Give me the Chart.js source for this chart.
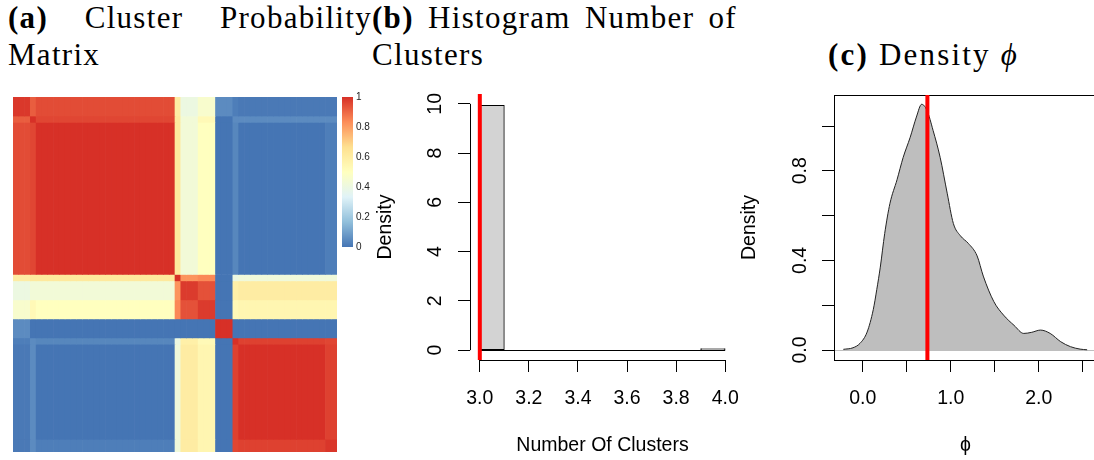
<!DOCTYPE html>
<html>
<head>
<meta charset="utf-8">
<script src="https://cdn.jsdelivr.net/npm/chart.js@4.4.1/dist/chart.umd.min.js"></script>
<style>
  html, body { margin: 0; padding: 0; background: #fff; overflow: hidden; }
  body { position: relative; width: 1094px; height: 460px; }
  .cap { position: absolute; font-family: "Liberation Serif", "Times New Roman", serif;
         font-size: 31px; line-height: 37px; letter-spacing: 1.3px; color: #000; }
  .cap .l1 { text-align: justify; text-align-last: justify; }
  canvas { position: absolute; }
</style>
</head>
<body>
<div class="cap" style="left:8px;top:-1px;width:364px">
  <div class="l1"><b>(a)</b> Cluster Probability</div>
  <div>Matrix</div>
</div>
<div class="cap" style="left:372px;top:-1px;width:365px">
  <div class="l1"><b>(b)</b> Histogram Number of</div>
  <div>Clusters</div>
</div>
<div class="cap" style="left:828px;top:36px;letter-spacing:2.2px">
  <div><b>(c)</b> Density <i>ϕ</i></div>
</div>

<canvas id="heat" width="340" height="370" style="left:0;top:90px"></canvas>
<canvas id="legend" width="43" height="177" style="left:340px;top:85px"></canvas>
<canvas id="hist" width="390" height="400" style="left:370px;top:60px"></canvas>
<canvas id="dens" width="372" height="400" style="left:738px;top:60px"></canvas>

<script>
// ---- (a) co-clustering probabilities, items grouped into runs with the same profile ----
const blockNames = ['A0', 'A1', 'A2', 'B0', 'B1', 'B2', 'C', 'D0', 'D1', 'D2'];
const blockSizes = [3, 1, 24, 1, 3, 3, 3, 1, 15, 2];
const blockProb = [
  [0.985, 0.92, 0.95, 0.60, 0.40, 0.46, 0.05, 0.02, 0.01, 0.01],
  [0.92, 1.00, 0.96, 0.62, 0.43, 0.53, 0.00, 0.05, 0.05, 0.05],
  [0.95, 0.96, 1.00, 0.62, 0.43, 0.50, 0.00, 0.04, 0.00, 0.02],
  [0.60, 0.62, 0.62, 1.00, 0.82, 0.84, 0.00, 0.40, 0.42, 0.42],
  [0.40, 0.43, 0.43, 0.82, 0.98, 0.94, 0.00, 0.58, 0.60, 0.60],
  [0.46, 0.53, 0.50, 0.84, 0.94, 0.98, 0.00, 0.53, 0.55, 0.55],
  [0.05, 0.00, 0.00, 0.00, 0.00, 0.00, 1.00, 0.00, 0.00, 0.00],
  [0.02, 0.05, 0.04, 0.40, 0.58, 0.53, 0.00, 1.00, 0.97, 0.96],
  [0.01, 0.05, 0.00, 0.42, 0.60, 0.55, 0.00, 0.97, 1.00, 0.97],
  [0.01, 0.05, 0.02, 0.42, 0.60, 0.55, 0.00, 0.96, 0.97, 0.99]
];
const legendTicks = [0, 0.2, 0.4, 0.6, 0.8, 1];
const legendLabels = ['0', '0.2', '0.4', '0.6', '0.8', '1'];

// ---- (b) posterior number of clusters ----
const kBreaks = [3.0, 3.1, 3.2, 3.3, 3.4, 3.5, 3.6, 3.7, 3.8, 3.9, 4.0];
const kDensity = [9.94, 0, 0, 0, 0, 0, 0, 0, 0, 0.06];
const kMark = 3;
const kXTicks = [3.0, 3.2, 3.4, 3.6, 3.8, 4.0];
const kXLabels = ['3.0', '3.2', '3.4', '3.6', '3.8', '4.0'];
const kYTicks = [0, 2, 4, 6, 8, 10];
const kYLabels = ['0', '2', '4', '6', '8', '10'];

// ---- (c) posterior density of phi ----
const phiX = [-0.22, -0.11, -0.03, 0.05, 0.12, 0.16, 0.20, 0.25, 0.31, 0.39, 0.46, 0.54,
              0.61, 0.67, 0.73, 0.80, 0.88, 0.96, 1.03, 1.11, 1.20, 1.30, 1.37, 1.49,
              1.60, 1.72, 1.83, 1.92, 2.02, 2.13, 2.25, 2.36, 2.47, 2.55];
const phiY = [0.003, 0.01, 0.03, 0.08, 0.18, 0.27, 0.37, 0.52, 0.655, 0.76, 0.86, 0.95,
              1.04, 1.097, 1.07, 0.98, 0.86, 0.70, 0.565, 0.51, 0.476, 0.42, 0.33, 0.216,
              0.156, 0.11, 0.074, 0.079, 0.089, 0.074, 0.037, 0.015, 0.004, 0.001];
const phiMark = 0.735;
const phiXTicks = [0, 0.5, 1, 1.5, 2, 2.5];
const phiXLabels = ['0.0', '', '1.0', '', '2.0', ''];
const phiYTicks = [0, 0.2, 0.4, 0.6, 0.8, 1.0];
const phiYLabels = ['0.0', '', '0.4', '', '0.8', ''];

// RdYlBu, reversed (blue = 0, red = 1)
const palette = ['#4575B4', '#91BFDB', '#E0F3F8', '#FFFFBF', '#FEE090', '#FC8D59', '#D73027'];

function hexRgb(h) { return [1, 3, 5].map(i => parseInt(h.slice(i, i + 2), 16)); }
function probColor(v) {
  const p = Math.max(0, Math.min(1, v)) * (palette.length - 1);
  const i = Math.min(Math.floor(p), palette.length - 2);
  const t = p - i;
  const a = hexRgb(palette[i]), b = hexRgb(palette[i + 1]);
  return 'rgb(' + a.map((c, k) => Math.round(c + (b[k] - c) * t)).join(',') + ')';
}

Chart.defaults.animation = false;
Chart.defaults.color = '#000';
Chart.defaults.font.family = '"Liberation Sans", Arial, sans-serif';
Chart.defaults.font.size = 19.5;
Chart.defaults.plugins.legend.display = false;
Chart.defaults.plugins.tooltip.enabled = false;

// R-style extras: axis lines over the tick range, box, zero line, reference line
const rFrame = {
  id: 'rFrame',
  beforeDatasetsDraw(chart, args, o) {
    if (o.zeroLine === undefined) return;
    const { ctx, chartArea: a, scales: { y } } = chart;
    const py = Math.round(y.getPixelForValue(o.zeroLine)) + 0.5;
    ctx.save();
    ctx.strokeStyle = '#BEBEBE';
    ctx.lineWidth = 1;
    ctx.beginPath();
    ctx.moveTo(a.left, py);
    ctx.lineTo(a.right, py);
    ctx.stroke();
    ctx.restore();
  },
  afterDatasetsDraw(chart, args, o) {
    const { ctx, chartArea: a, scales: { x, y } } = chart;
    const px = v => Math.round(v) + 0.5;
    ctx.save();
    ctx.strokeStyle = '#000';
    ctx.lineWidth = 1;
    if (o.baseline) {
      // bottom edge of the histogram rectangles, including the empty bins
      const py = px(y.getPixelForValue(0));
      ctx.beginPath();
      ctx.moveTo(x.getPixelForValue(o.baseline[0]), py);
      ctx.lineTo(x.getPixelForValue(o.baseline[1]), py);
      ctx.stroke();
    }
    if (o.box) {
      ctx.strokeRect(px(a.left), px(a.top), Math.round(a.right - a.left), Math.round(a.bottom - a.top));
    }
    if (o.axes) {
      const xt = x.ticks, yt = y.ticks;
      ctx.beginPath();
      ctx.moveTo(x.getPixelForValue(xt[0].value), px(a.bottom));
      ctx.lineTo(x.getPixelForValue(xt[xt.length - 1].value), px(a.bottom));
      ctx.moveTo(px(a.left), y.getPixelForValue(yt[0].value));
      ctx.lineTo(px(a.left), y.getPixelForValue(yt[yt.length - 1].value));
      ctx.stroke();
    }
    if (o.mark !== undefined) {
      const mx = x.getPixelForValue(o.mark);
      ctx.strokeStyle = '#FF0000';
      ctx.lineWidth = 4;
      ctx.beginPath();
      ctx.moveTo(mx, a.top);
      ctx.lineTo(mx, a.bottom);
      ctx.stroke();
    }
    ctx.restore();
  }
};

function rAxis(opts) {
  // ticks only (no grid, no border), fixed size so the plot region is pinned
  const horizontal = opts.axis === 'x';
  return {
    type: 'linear',
    min: opts.min,
    max: opts.max,
    offset: false,
    grid: { display: true, drawOnChartArea: false, drawTicks: true, tickLength: 12,
            color: '#000', lineWidth: 1, offset: false },
    border: { display: false },
    afterBuildTicks: s => { s.ticks = opts.ticks.map(v => ({ value: v })); },
    ticks: Object.assign({
      autoSkip: false,
      callback: (v, i) => opts.labels[i]
    }, horizontal ? { padding: 15, maxRotation: 0 }
                  : { minRotation: 90, maxRotation: 90, crossAlign: 'center', padding: opts.labelPad }),
    title: { display: true, text: opts.title,
             padding: horizontal ? { top: 0, bottom: 3 } : { top: opts.titlePad, bottom: 0 } },
    afterFit: s => { if (horizontal) s.height = opts.size; else s.width = opts.size; }
  };
}

// ---- (a) heatmap: one stacked column per item, one stack segment per row block ----
const itemBlock = [];
blockSizes.forEach((n, b) => { for (let k = 0; k < n; k++) itemBlock.push(b); });
const itemLabels = itemBlock.map((_, i) => String(i + 1));

new Chart(document.getElementById('heat'), {
  type: 'bar',
  data: {
    labels: itemLabels,
    datasets: blockSizes.map((n, r) => ({
      label: blockNames[r],
      data: itemBlock.map(() => n),
      backgroundColor: itemBlock.map(c => probColor(blockProb[r][c])),
      borderWidth: 0,
      barPercentage: 1,
      categoryPercentage: 1
    }))
  },
  options: {
    responsive: false,
    layout: { padding: { left: 13, top: 7, right: 3, bottom: 8 } },
    scales: {
      x: { stacked: true, display: false },
      y: { stacked: true, display: false, min: 0, max: itemBlock.length, reverse: true }
    }
  }
});

// colour key
new Chart(document.getElementById('legend'), {
  type: 'bar',
  data: {
    labels: ['p'],
    datasets: [{
      data: [[0, 1]],
      borderWidth: 0,
      barPercentage: 1,
      categoryPercentage: 1,
      backgroundColor: c => {
        const a = c.chart.chartArea;
        if (!a) return null;
        const g = c.chart.ctx.createLinearGradient(0, a.bottom, 0, a.top);
        palette.forEach((col, i) => g.addColorStop(i / (palette.length - 1), col));
        return g;
      }
    }]
  },
  options: {
    responsive: false,
    layout: { padding: { left: 2, top: 12, right: 0, bottom: 15 } },
    scales: {
      x: { display: false },
      y: {
        position: 'right', min: 0, max: 1,
        grid: { display: false, drawTicks: false }, border: { display: false },
        afterBuildTicks: s => { s.ticks = legendTicks.map(v => ({ value: v })); },
        ticks: { padding: 3, color: '#222', font: { size: 10 },
                 callback: (v, i) => legendLabels[i] },
        afterFit: s => { s.width = 30; }
      }
    }
  }
});

// ---- (b) histogram ----
const kCenters = kDensity.map((_, i) => (kBreaks[i] + kBreaks[i + 1]) / 2);

new Chart(document.getElementById('hist'), {
  type: 'bar',
  data: {
    datasets: [{
      data: kDensity.map((d, i) => ({ x: kCenters[i], y: d })),
      backgroundColor: '#D3D3D3',
      borderColor: '#000',
      borderWidth: 1,
      borderSkipped: false,
      barPercentage: 1,
      categoryPercentage: 1
    }]
  },
  options: {
    responsive: false,
    layout: { padding: { left: 0, top: 34, right: 25, bottom: 0 } },
    plugins: { rFrame: { axes: true, mark: kMark, baseline: [kBreaks[0], kBreaks[kBreaks.length - 1]] } },
    scales: {
      x: rAxis({ axis: 'x', min: 2.96, max: 4.04, ticks: kXTicks, labels: kXLabels,
                 title: 'Number Of Clusters', size: 100 }),
      y: rAxis({ axis: 'y', min: -0.4, max: 10.4, ticks: kYTicks, labels: kYLabels,
                 title: 'Density', size: 100, labelPad: 12, titlePad: 4 })
    }
  },
  plugins: [rFrame]
});

// ---- (c) density ----
new Chart(document.getElementById('dens'), {
  type: 'line',
  data: {
    datasets: [{
      data: phiX.map((x, i) => ({ x: x, y: phiY[i] })),
      borderColor: '#222',
      borderWidth: 1,
      backgroundColor: '#BEBEBE',
      fill: 'origin',
      pointRadius: 0,
      cubicInterpolationMode: 'monotone'
    }]
  },
  options: {
    responsive: false,
    layout: { padding: { left: 0, top: 35, right: 13, bottom: 0 } },
    plugins: { rFrame: { box: true, zeroLine: 0, mark: phiMark } },
    scales: {
      x: rAxis({ axis: 'x', min: -0.326, max: 2.662, ticks: phiXTicks, labels: phiXLabels,
                 title: 'ϕ', size: 100 }),
      y: rAxis({ axis: 'y', min: -0.0446, max: 1.1384, ticks: phiYTicks, labels: phiYLabels,
                 title: 'Density', size: 96, labelPad: 8, titlePad: 0 })
    }
  },
  plugins: [rFrame]
});
</script>
</body>
</html>
